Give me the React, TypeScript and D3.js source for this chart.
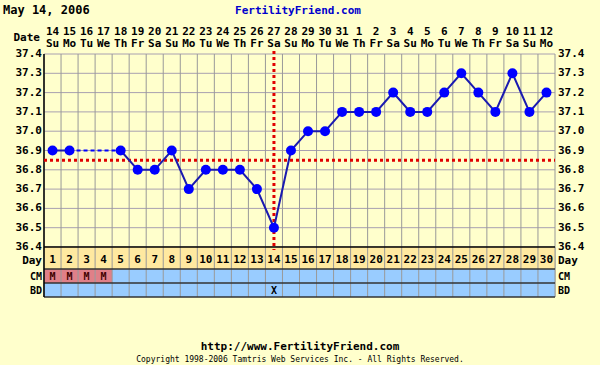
import * as d3 from "d3";
import React from "react";

const dates = ["14","15","16","17","18","19","20","21","22","23","24","25","26","27","28","29","30","31","1","2","3","4","5","6","7","8","9","10","11","12"];
const weekdays = ["Su","Mo","Tu","We","Th","Fr","Sa","Su","Mo","Tu","We","Th","Fr","Sa","Su","Mo","Tu","We","Th","Fr","Sa","Su","Mo","Tu","We","Th","Fr","Sa","Su","Mo"];
const temps: (number | null)[] = [36.9, 36.9, null, null, 36.9, 36.8, 36.8, 36.9, 36.7, 36.8, 36.8, 36.8, 36.7, 36.5, 36.9, 37.0, 37.0, 37.1, 37.1, 37.1, 37.2, 37.1, 37.1, 37.2, 37.3, 37.2, 37.1, 37.3, 37.1, 37.2];
const cm = ["M","M","M","M","","","","","","","","","","","","","","","","","","","","","","","","","",""];
const bd = ["","","","","","","","","","","","","","X","","","","","","","","","","","","","","","",""];
const yTicks = [37.4, 37.3, 37.2, 37.1, 37.0, 36.9, 36.8, 36.7, 36.6, 36.5, 36.4];
const coverline = 36.85;
const ovulationDay = 14;

const font = "'DejaVu Sans Mono', monospace";

export default function App() {
  const x = d3.scaleLinear().domain([0, 30]).range([44, 555]);
  const y = d3.scaleLinear().domain([36.4, 37.4]).range([247, 54]);
  const days = d3.range(1, 31);
  const cx = (d: number) => x(d - 0.5);

  const pts = temps.map((t, i) => ({ d: i + 1, t }));
  const line = d3.line<{ d: number; t: number | null }>()
    .defined(p => p.t != null)
    .x(p => cx(p.d))
    .y(p => y(p.t as number));
  const known = pts.filter(p => p.t != null);
  const gaps: [typeof pts[0], typeof pts[0]][] = [];
  for (let i = 1; i < known.length; i++) {
    if (known[i].d - known[i - 1].d > 1) gaps.push([known[i - 1], known[i]]);
  }

  const rowDay = [247, 269];
  const rowCm = [269, 283];
  const rowBd = [283, 297];

  return (
    <div style={{ position: "fixed", left: 0, top: 0 }}>
      <svg width={600} height={365} style={{ display: "block", background: "#FFFFCC" }} fontFamily={font} fontWeight="bold">
        <text x={3} y={14} fontSize={12} fill="#000">May 14, 2006</text>
        <text x={298} y={14} fontSize={11} fill="#0000CC" textAnchor="middle">FertilityFriend.com</text>

        <text x={40} y={41} fontSize={11} textAnchor="end">Date</text>
        {days.map(d => (
          <g key={d}>
            <text x={cx(d)} y={35} fontSize={11} textAnchor="middle">{dates[d - 1]}</text>
            <text x={cx(d)} y={47} fontSize={11} textAnchor="middle">{weekdays[d - 1]}</text>
          </g>
        ))}

        {/* grid */}
        {yTicks.map(t => (
          <line key={t} x1={x(0)} x2={x(30)} y1={y(t)} y2={y(t)} stroke="#A8A0B0" strokeWidth={1} />
        ))}
        {d3.range(0, 31).map(i => (
          <line key={i} x1={x(i)} x2={x(i)} y1={y(37.4)} y2={rowBd[1]} stroke="#999" strokeWidth={1} />
        ))}
        {yTicks.map(t => (
          <g key={"l" + t}>
            <text x={42} y={y(t) + 3} fontSize={11} textAnchor="end">{t.toFixed(1)}</text>
            <text x={558} y={y(t) + 3} fontSize={11}>{t.toFixed(1)}</text>
          </g>
        ))}

        {/* rows */}
        <rect x={x(0)} y={rowDay[0]} width={x(30) - x(0)} height={rowDay[1] - rowDay[0]} fill="#FFE9A0" />
        <rect x={x(0)} y={rowCm[0]} width={x(30) - x(0)} height={rowBd[1] - rowCm[0]} fill="#99CCFF" />
        {days.map(d => (
          <g key={"r" + d}>
            <text x={cx(d)} y={rowDay[0] + 16} fontSize={11} textAnchor="middle">{d}</text>
            {cm[d - 1] && <rect x={x(d - 1)} y={rowCm[0]} width={x(d) - x(d - 1)} height={rowCm[1] - rowCm[0]} fill="#E08088" />}
            {cm[d - 1] && <text x={cx(d)} y={rowCm[0] + 11} fontSize={10} textAnchor="middle" fill="#400000">{cm[d - 1]}</text>}
            {bd[d - 1] && <text x={cx(d)} y={rowBd[0] + 11} fontSize={10} textAnchor="middle">{bd[d - 1]}</text>}
          </g>
        ))}
        {d3.range(0, 31).map(i => (
          <line key={"v" + i} x1={x(i)} x2={x(i)} y1={rowDay[0]} y2={rowBd[1]} stroke="#999" strokeWidth={1} />
        ))}
        <line x1={x(0)} x2={x(30)} y1={rowDay[0]} y2={rowDay[0]} stroke="#000" strokeWidth={1.5} />
        <line x1={x(0)} x2={x(30)} y1={rowCm[0]} y2={rowCm[0]} stroke="#333" strokeWidth={1.5} />
        <line x1={x(0)} x2={x(30)} y1={rowBd[0]} y2={rowBd[0]} stroke="#333" strokeWidth={1.5} />
        <line x1={x(0)} x2={x(30)} y1={rowBd[1]} y2={rowBd[1]} stroke="#333" strokeWidth={1.5} />
        <line x1={x(0)} x2={x(0)} y1={y(37.4)} y2={rowBd[1]} stroke="#000" strokeWidth={1.5} />
        <text x={42} y={rowDay[0] + 17} fontSize={11} textAnchor="end">Day</text>
        <text x={558} y={rowDay[0] + 17} fontSize={11}>Day</text>
        <text x={42} y={rowCm[0] + 11} fontSize={10} textAnchor="end">CM</text>
        <text x={558} y={rowCm[0] + 11} fontSize={10}>CM</text>
        <text x={42} y={rowBd[0] + 11} fontSize={10} textAnchor="end">BD</text>
        <text x={558} y={rowBd[0] + 11} fontSize={10}>BD</text>

        {/* coverline and ovulation */}
        <line x1={x(0)} x2={x(30)} y1={y(coverline)} y2={y(coverline)} stroke="#E00000" strokeWidth={3} strokeDasharray="3,3" />
        <line x1={cx(ovulationDay)} x2={cx(ovulationDay)} y1={51} y2={250} stroke="#E00000" strokeWidth={3} strokeDasharray="3,3" />

        {/* temperatures */}
        <path d={line(pts) || ""} fill="none" stroke="#1A1AB0" strokeWidth={2} />
        {gaps.map(([a, b], i) => (
          <line key={"g" + i} x1={cx(a.d)} x2={cx(b.d)} y1={y(a.t as number)} y2={y(b.t as number)} stroke="#0000FF" strokeWidth={2} strokeDasharray="4,3" />
        ))}
        {known.map(p => (
          <circle key={"c" + p.d} cx={cx(p.d)} cy={y(p.t as number)} r={5} fill="#0000FF" />
        ))}

        <text x={300} y={350} fontSize={11} textAnchor="middle">http://www.FertilityFriend.com</text>
        <text x={300} y={362} fontSize={8} fontWeight="normal" textAnchor="middle">Copyright 1998-2006 Tamtris Web Services Inc. - All Rights Reserved.</text>
      </svg>
    </div>
  );
}
